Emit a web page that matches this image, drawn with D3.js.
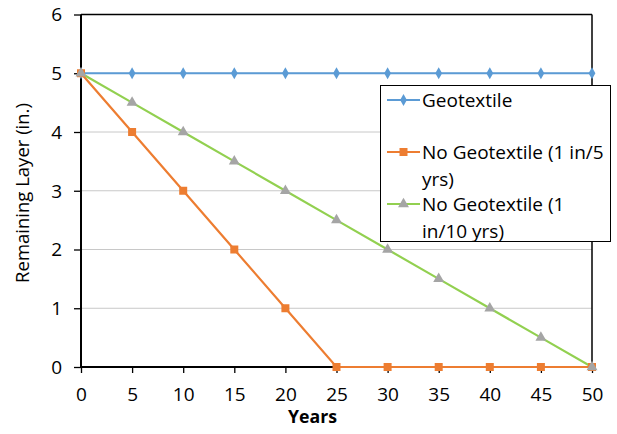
<!DOCTYPE html>
<html>
<head>
<meta charset="utf-8">
<script src="https://cdn.jsdelivr.net/npm/d3@7"></script>
<style>
  html, body { margin: 0; padding: 0; background: #fff; }
  text { font-family: "Open Sans", "Noto Sans", sans-serif; fill: #000; }
</style>
</head>
<body>
<svg id="chart" width="617" height="434"></svg>
<script>
// Years since placement
const years = [0, 5, 10, 15, 20, 25, 30, 35, 40, 45, 50];
// Remaining layer thickness (in.) for each scenario
const geotextile = [5, 5, 5, 5, 5, 5, 5, 5, 5, 5, 5];
const noGeo5 = [5, 4, 3, 2, 1, 0, 0, 0, 0, 0, 0];
const noGeo10 = [5, 4.5, 4, 3.5, 3, 2.5, 2, 1.5, 1, 0.5, 0];
const xTicks = [0, 5, 10, 15, 20, 25, 30, 35, 40, 45, 50];
const yTicks = [0, 1, 2, 3, 4, 5, 6];

const series = [
  { lines: ["Geotextile"], values: geotextile, color: "#5B9BD5", marker: "diamond", markerColor: "#5B9BD5" },
  { lines: ["No Geotextile (1 in/5", "yrs)"], values: noGeo5, color: "#ED7D31", marker: "square", markerColor: "#ED7D31" },
  { lines: ["No Geotextile (1", "in/10 yrs)"], values: noGeo10, color: "#92D050", marker: "triangle", markerColor: "#A5A5A5" }
];

const svg = d3.select("#chart");
const m = { left: 81, right: 592, top: 14.5, bottom: 367 };

const x = d3.scaleLinear().domain([0, 50]).range([m.left, m.right]);
const y = d3.scaleLinear().domain([0, 6]).range([m.bottom, m.top]);

// gridlines
svg.append("g").selectAll("line").data(yTicks.filter(d => d > 0 && d < 6)).join("line")
  .attr("x1", m.left).attr("x2", m.right)
  .attr("y1", d => y(d)).attr("y2", d => y(d))
  .attr("stroke", "#c8c8c8").attr("stroke-width", 1);

// top and right frame
svg.append("line").attr("x1", m.left).attr("x2", m.right).attr("y1", m.top).attr("y2", m.top)
  .attr("stroke", "#000").attr("stroke-width", 1.5);
svg.append("line").attr("x1", m.right).attr("x2", m.right).attr("y1", m.top).attr("y2", m.bottom)
  .attr("stroke", "#000").attr("stroke-width", 1.5);

// axes
const xAxis = d3.axisBottom(x).tickValues(xTicks).tickSize(6).tickPadding(15).tickFormat(d3.format("d"));
const yAxis = d3.axisLeft(y).tickValues(yTicks).tickSize(7).tickPadding(12).tickFormat(d3.format("d"));

const gx = svg.append("g").attr("transform", `translate(0,${m.bottom})`).call(xAxis);
const gy = svg.append("g").attr("transform", `translate(${m.left},0)`).call(yAxis);
[gx, gy].forEach(g => {
  g.select(".domain").attr("stroke", "#000").attr("stroke-width", 2);
  g.selectAll(".tick line").attr("stroke", "#000").attr("stroke-width", 1.3);
  g.selectAll(".tick text").attr("font-size", 19).attr("font-family", "Open Sans").attr("fill", "#000");
});
gx.select(".domain").attr("d", `M${m.left},0H${m.right}`);
gy.select(".domain").attr("d", `M0,${m.bottom}V${m.top}`);
gy.selectAll(".tick text").attr("dy", "0.34em");

// axis titles
svg.append("text").attr("x", 312.5).attr("y", 422.5).attr("text-anchor", "middle")
  .attr("font-size", 17.7).attr("font-weight", "bold").text("Years");
svg.append("text").attr("transform", "translate(29,193) rotate(-90)").attr("text-anchor", "middle")
  .attr("font-size", 18.5).text("Remaining Layer (in.)");

// marker shapes
function markerPath(type) {
  if (type === "diamond") return d3.symbol(d3.symbolDiamond, 40)();
  if (type === "square") return d3.symbol(d3.symbolSquare, 64)();
  return d3.symbol(d3.symbolTriangle, 52)();
}

const line = d3.line().x((d, i) => x(years[i])).y(d => y(d));

series.forEach(s => {
  svg.append("path").datum(s.values).attr("d", line)
    .attr("fill", "none").attr("stroke", s.color).attr("stroke-width", 2.2);
});
series.forEach(s => {
  svg.append("g").selectAll("path").data(s.values).join("path")
    .attr("d", markerPath(s.marker))
    .attr("transform", (d, i) => `translate(${x(years[i])},${y(d)})`)
    .attr("fill", s.markerColor);
});

// legend
const lg = svg.append("g");
lg.append("rect").attr("x", 380.5).attr("y", 85.5).attr("width", 230).attr("height", 156)
  .attr("fill", "#fff").attr("stroke", "#000").attr("stroke-width", 1);
const entryY = [100, 152, 204];
series.forEach((s, i) => {
  const cy = entryY[i];
  lg.append("line").attr("x1", 387).attr("x2", 420).attr("y1", cy).attr("y2", cy)
    .attr("stroke", s.color).attr("stroke-width", 2.2);
  lg.append("path").attr("d", markerPath(s.marker)).attr("transform", `translate(403.5,${cy})`)
    .attr("fill", s.markerColor);
  s.lines.forEach((t, k) => {
    lg.append("text").attr("x", 422).attr("y", cy + k * 27).attr("dy", "0.35em")
      .attr("font-size", 19).text(t);
  });
});
</script>
</body>
</html>
